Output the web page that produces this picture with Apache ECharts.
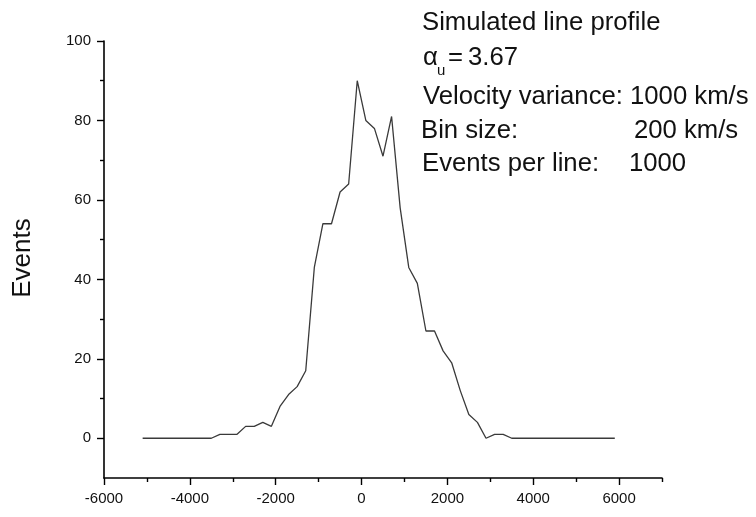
<!DOCTYPE html>
<html><head><meta charset="utf-8">
<script src="https://cdn.jsdelivr.net/npm/echarts@6/dist/echarts.min.js"></script>
<style>html,body{margin:0;padding:0;background:#fff}#c{width:756px;height:517px}</style>
</head><body><div id="c"></div>
<script>
// Bin centres (km/s)
const velocities = [-5100,-4900,-4700,-4500,-4300,-4100,-3900,-3700,-3500,-3300,-3100,-2900,-2700,-2500,-2300,-2100,
  -1900,-1700,-1500,-1300,-1100,-900,-700,-500,-300,-100,100,300,500,700,900,1100,1300,1500,1700,1900,2100,2300,2500,
  2700,2900,3100,3300,3500,3700,3900,4100,4300,4500,4700,4900,5100,5300,5500,5700,5900];
// Events per bin
const counts = [0,0,0,0,0,0,0,0,0,1,1,1,3,3,4,3,
  8,11,13,17,43,54,54,62,64,90,80,78,71,81,58,43,39,27,27,22,19,12,6,
  4,0,1,1,0,0,0,0,0,0,0,0,0,0,0,0,0];
const xMajorTicks = [-6000,-4000,-2000,0,2000,4000,6000];
const xMinorTicks = [-5000,-3000,-1000,1000,3000,5000,7000];
const yMajorTicks = [0,20,40,60,80,100];
const yMinorTicks = [10,30,50,70,90];
const yAxisTitle = 'Events';
const infoTitle = 'Simulated line profile';
const alphaSymbol = 'α', alphaSub = 'u', alphaValue = '3.67';
const infoVariance = 'Velocity variance: 1000 km/s';
const infoBinLabel = 'Bin size:', infoBinValue = '200 km/s';
const infoEventsLabel = 'Events per line:', infoEventsValue = '1000';

const FONT = '"Liberation Sans", Arial, Helvetica, sans-serif';
const chart = echarts.init(document.getElementById('c'), null, {renderer: 'canvas'});

function txt(x, y, text, size, extra) {
  return Object.assign({
    type: 'text', x: x, y: y, silent: true,
    style: {
      text: text, font: size + 'px ' + FONT, fill: '#111',
      align: 'left', verticalAlign: 'middle',
      textAlign: 'left', textVerticalAlign: 'middle'
    }
  }, extra || {});
}

const plain = v => String(v);
const axisBase = {
  type: 'value', min: -6000, max: 7000, position: 'bottom', gridIndex: 0,
  splitLine: {show: false}
};
const yBase = {
  type: 'value', min: -10, max: 100, position: 'left', gridIndex: 0,
  splitLine: {show: false}
};

chart.setOption({
  animation: false,
  backgroundColor: '#fff',
  grid: {left: 104, right: 94, top: 41, bottom: 39, containLabel: false},
  xAxis: [
    Object.assign({}, axisBase, {
      axisLine: {show: true, onZero: false, lineStyle: {color: '#000', width: 1.6}},
      axisTick: {show: true, customValues: xMajorTicks, length: 7, lineStyle: {color: '#000', width: 1.4}},
      axisLabel: {show: true, customValues: xMajorTicks, formatter: plain, color: '#111', fontSize: 15, fontFamily: FONT, margin: 13}
    }),
    Object.assign({}, axisBase, {
      offset: 0,
      axisLine: {show: false, onZero: false},
      axisTick: {show: true, customValues: xMinorTicks, length: 4, lineStyle: {color: '#000', width: 1.4}},
      axisLabel: {show: false}
    })
  ],
  yAxis: [
    Object.assign({}, yBase, {
      axisLine: {show: true, onZero: false, lineStyle: {color: '#000', width: 1.6}},
      axisTick: {show: true, customValues: yMajorTicks, length: 7, lineStyle: {color: '#000', width: 1.4}},
      axisLabel: {show: true, customValues: yMajorTicks, formatter: plain, color: '#111', fontSize: 15, fontFamily: FONT, margin: 13}
    }),
    Object.assign({}, yBase, {
      offset: 0,
      axisLine: {show: false, onZero: false},
      axisTick: {show: true, customValues: yMinorTicks, length: 4, lineStyle: {color: '#000', width: 1.4}},
      axisLabel: {show: false}
    })
  ],
  series: [{
    type: 'line', xAxisIndex: 0, yAxisIndex: 0,
    data: velocities.map((v, i) => [v, counts[i]]),
    symbol: 'none', smooth: false,
    lineStyle: {color: '#3a3a3a', width: 1.3}
  }],
  graphic: [
    txt(23, 258, yAxisTitle, 26, {rotation: Math.PI / 2, style: {
      text: yAxisTitle, font: '26px ' + FONT, fill: '#111',
      align: 'center', verticalAlign: 'middle', textAlign: 'center', textVerticalAlign: 'middle'}}),
    txt(422, 23, infoTitle, 25.7),
    txt(423, 58, alphaSymbol, 25.7),
    txt(437, 71, alphaSub, 15),
    txt(448, 58, '=', 25.7),
    txt(468, 58, alphaValue, 25.7),
    txt(423, 97, infoVariance, 25.7),
    txt(421, 131, infoBinLabel, 25.7),
    txt(634, 131, infoBinValue, 25.7),
    txt(422, 164, infoEventsLabel, 25.7),
    txt(629, 164, infoEventsValue, 25.7)
  ]
});
</script>
</body></html>
